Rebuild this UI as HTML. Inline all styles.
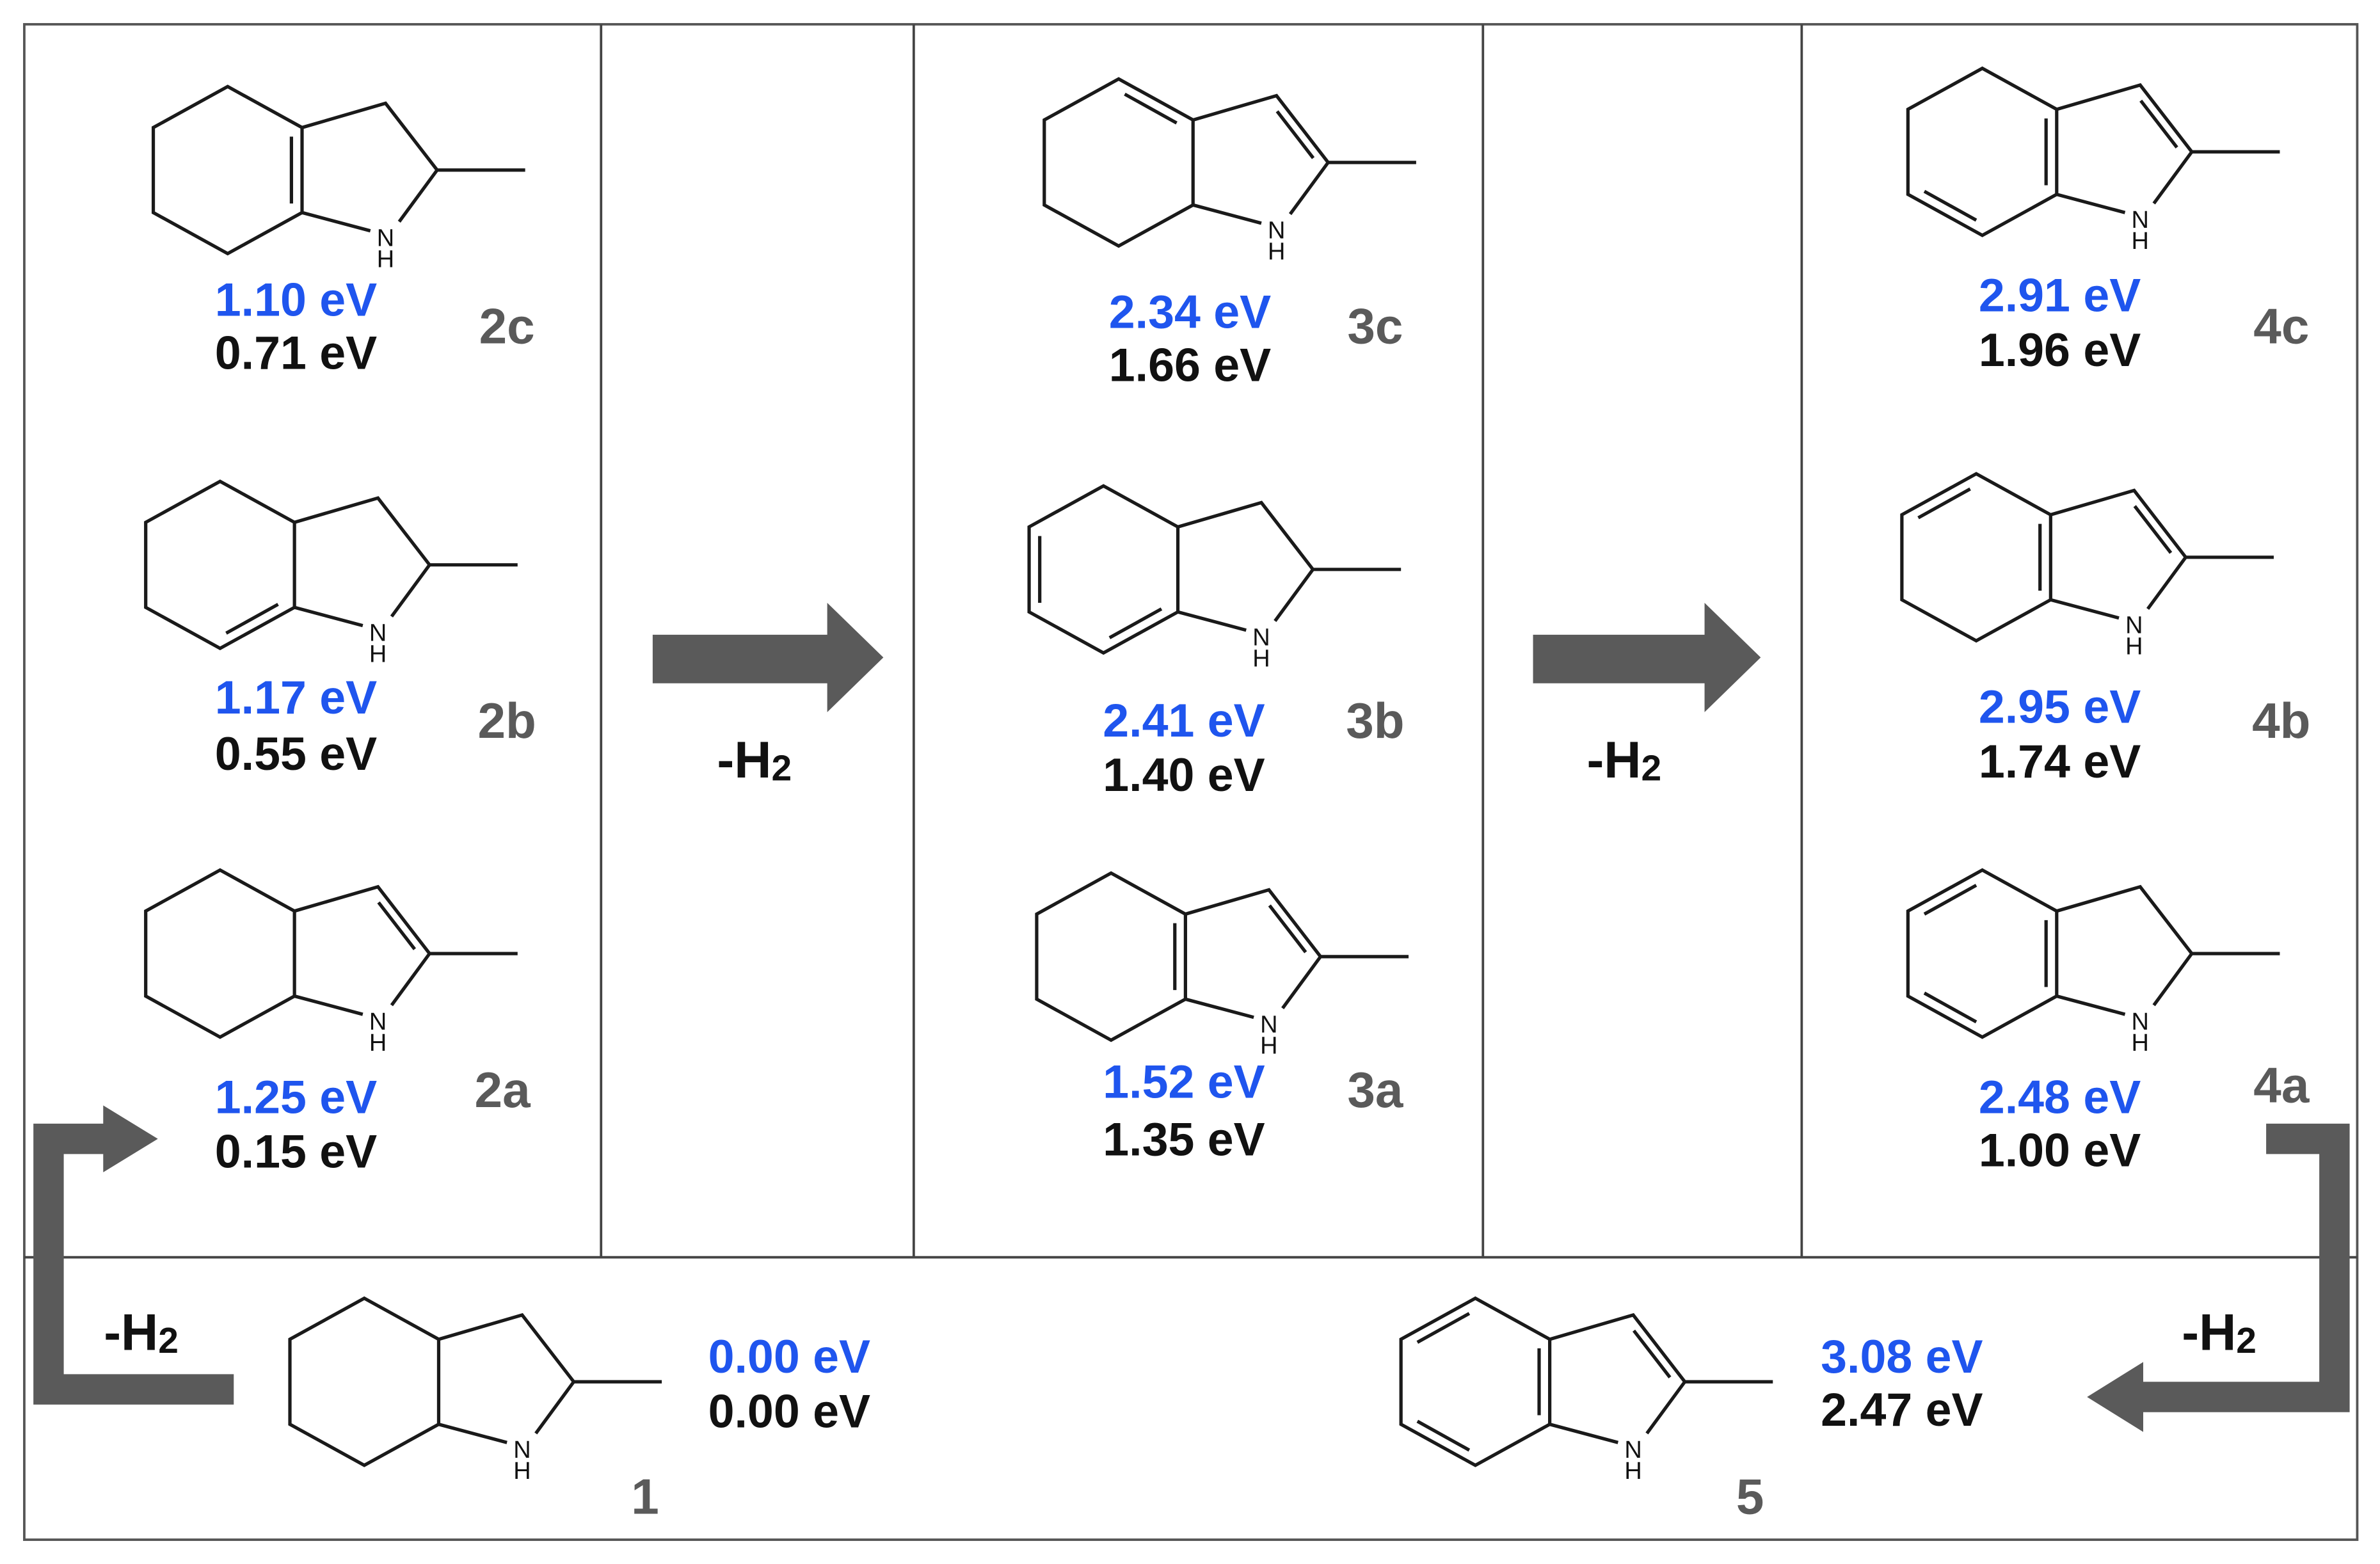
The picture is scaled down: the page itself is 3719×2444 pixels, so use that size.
<!DOCTYPE html>
<html><head><meta charset="utf-8"><style>
html,body{margin:0;padding:0;background:#fff;}
svg{display:block;}
.e{font-family:"Liberation Sans",sans-serif;font-weight:bold;font-size:31px;text-anchor:middle;}
.b{fill:#1f55ee;}
.k{fill:#111;}
.g{fill:#5a5a5a;font-size:33px;}
.h{font-family:"Liberation Sans",sans-serif;font-weight:bold;font-size:34px;fill:#111;text-anchor:middle;}
.n{font-family:"Liberation Sans",sans-serif;font-size:16px;fill:#111;text-anchor:middle;}
.bd{stroke:#1a1a1a;stroke-width:2.2;fill:none;stroke-linejoin:miter;}
</style></head><body>
<svg width="3719" height="2444" viewBox="0 0 1568 1030" preserveAspectRatio="none" xmlns="http://www.w3.org/2000/svg">
<defs>
<g id="sk">
<polyline class="bd" points="94,40 49,28 49,-28 0,-55 -49,-28 -49,28 0,55 49,28"/>
<polyline class="bd" points="49,-28 104,-44 138,0 196,0"/>
<line class="bd" x1="138" y1="0" x2="113" y2="34"/>
<text class="n" x="104" y="50">N</text>
<text class="n" x="104" y="64">H</text>
</g>
<line id="dCC" class="bd" x1="42" y1="-22" x2="42" y2="22"/>
<line id="dBLR" class="bd" x1="4" y1="45" x2="38.2" y2="26"/>
<line id="dLLB" class="bd" x1="-4" y1="45" x2="-38.2" y2="26"/>
<line id="dTUR" class="bd" x1="4" y1="-45" x2="38.2" y2="-26"/>
<line id="dTUL" class="bd" x1="-4" y1="-45" x2="-38.2" y2="-26"/>
<line id="dL" class="bd" x1="-42" y1="-22" x2="-42" y2="22"/>
<line id="d23" class="bd" x1="104.4" y1="-33.7" x2="128.2" y2="-2.9"/>
</defs>

<rect x="16" y="16" width="1537" height="998" fill="none" stroke="#555" stroke-width="1.6"/>
<line x1="16" y1="828" x2="1553" y2="828" stroke="#444" stroke-width="1.6"/>
<line x1="396" y1="16" x2="396" y2="828" stroke="#444" stroke-width="1.6"/>
<line x1="602" y1="16" x2="602" y2="828" stroke="#444" stroke-width="1.6"/>
<line x1="977" y1="16" x2="977" y2="828" stroke="#444" stroke-width="1.6"/>
<line x1="1187" y1="16" x2="1187" y2="828" stroke="#444" stroke-width="1.6"/>

<g transform="translate(150,112)"><use href="#sk"/><use href="#dCC"/></g>
<text class="e b" x="195" y="208">1.10 eV</text>
<text class="e k" x="195" y="243">0.71 eV</text>
<text class="e g" x="334" y="226">2c</text>
<g transform="translate(145,372)"><use href="#sk"/><use href="#dBLR"/></g>
<text class="e b" x="195" y="470">1.17 eV</text>
<text class="e k" x="195" y="507">0.55 eV</text>
<text class="e g" x="334" y="486">2b</text>
<g transform="translate(145,628)"><use href="#sk"/><use href="#d23"/></g>
<text class="e b" x="195" y="733">1.25 eV</text>
<text class="e k" x="195" y="769">0.15 eV</text>
<text class="e g" x="331" y="729">2a</text>

<g transform="translate(737,107)"><use href="#sk"/><use href="#d23"/><use href="#dTUR"/></g>
<text class="e b" x="784" y="216">2.34 eV</text>
<text class="e k" x="784" y="251">1.66 eV</text>
<text class="e g" x="906" y="226">3c</text>
<g transform="translate(727,375)"><use href="#sk"/><use href="#dL"/><use href="#dBLR"/></g>
<text class="e b" x="780" y="485">2.41 eV</text>
<text class="e k" x="780" y="521">1.40 eV</text>
<text class="e g" x="906" y="486">3b</text>
<g transform="translate(732,630)"><use href="#sk"/><use href="#d23"/><use href="#dCC"/></g>
<text class="e b" x="780" y="723">1.52 eV</text>
<text class="e k" x="780" y="761">1.35 eV</text>
<text class="e g" x="906" y="729">3a</text>

<g transform="translate(1306,100)"><use href="#sk"/><use href="#d23"/><use href="#dCC"/><use href="#dLLB"/></g>
<text class="e b" x="1357" y="205">2.91 eV</text>
<text class="e k" x="1357" y="241">1.96 eV</text>
<text class="e g" x="1503" y="226">4c</text>
<g transform="translate(1302,367)"><use href="#sk"/><use href="#d23"/><use href="#dCC"/><use href="#dTUL"/></g>
<text class="e b" x="1357" y="476">2.95 eV</text>
<text class="e k" x="1357" y="512">1.74 eV</text>
<text class="e g" x="1503" y="486">4b</text>
<g transform="translate(1306,628)"><use href="#sk"/><use href="#dTUL"/><use href="#dCC"/><use href="#dLLB"/></g>
<text class="e b" x="1357" y="733">2.48 eV</text>
<text class="e k" x="1357" y="768">1.00 eV</text>
<text class="e g" x="1503" y="726">4a</text>

<g transform="translate(240,910)"><use href="#sk"/></g>
<text class="e b" x="520" y="904">0.00 eV</text>
<text class="e k" x="520" y="940">0.00 eV</text>
<text class="e g" x="425" y="997">1</text>
<g transform="translate(972,910)"><use href="#sk"/><use href="#d23"/><use href="#dTUL"/><use href="#dCC"/><use href="#dLLB"/></g>
<text class="e b" x="1253" y="904">3.08 eV</text>
<text class="e k" x="1253" y="939">2.47 eV</text>
<text class="e g" x="1153" y="997">5</text>

<polygon fill="#5a5a5a" points="430,418 545,418 545,397 582,433 545,469 545,450 430,450"/>
<text class="h" x="497" y="512">-H<tspan font-size="24" dy="2">2</tspan></text>
<polygon fill="#5a5a5a" points="1010,418 1123,418 1123,397 1160,433 1123,469 1123,450 1010,450"/>
<text class="h" x="1070" y="512">-H<tspan font-size="24" dy="2">2</tspan></text>

<polygon fill="#5a5a5a" points="22,740 68,740 68,728 104,750 68,772 68,760 42,760 42,905 154,905 154,925 22,925"/>
<text class="h" x="93" y="889">-H<tspan font-size="24" dy="2">2</tspan></text>
<polygon fill="#5a5a5a" points="1493,740 1548,740 1548,930 1412,930 1412,943 1375,920 1412,897 1412,910 1528,910 1528,760 1493,760"/>
<text class="h" x="1462" y="889">-H<tspan font-size="24" dy="2">2</tspan></text>
</svg>
</body></html>
